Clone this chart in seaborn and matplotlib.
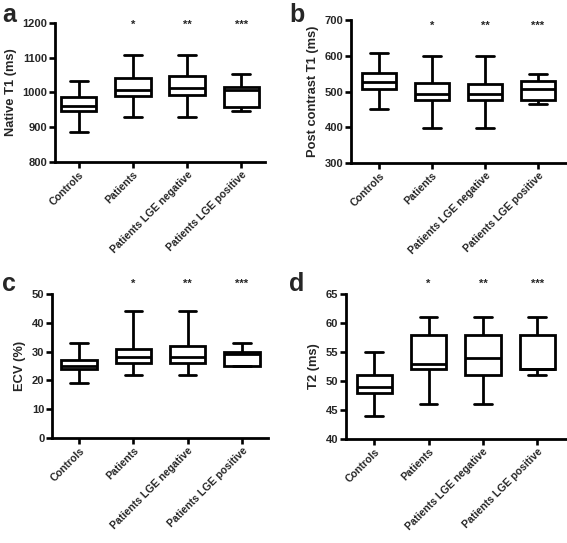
import numpy as np
import pandas as pd
import matplotlib
matplotlib.use("Agg")
import matplotlib.pyplot as plt
import seaborn as sns

sns.set_style("ticks")
plt.rcParams['font.family'] = ['Liberation Sans', 'DejaVu Sans']
plt.rcParams['font.weight'] = 'bold'

groups = ["Controls", "Patients", "Patients LGE negative", "Patients LGE positive"]
stars = ["", "*", "**", "***"]

# five-number summaries [min, Q1, median, Q3, max] per group
native_t1 = [[887, 947, 962, 987, 1033],
             [930, 990, 1007, 1042, 1107],
             [930, 992, 1013, 1048, 1107],
             [948, 958, 1008, 1017, 1053]]
post_t1 = [[450, 508, 527, 553, 609],
           [397, 477, 494, 523, 600],
           [397, 477, 494, 521, 600],
           [466, 477, 507, 530, 550]]
ecv = [[19, 24, 25, 27, 33],
       [22, 26, 28, 31, 44],
       [22, 26, 28, 32, 44],
       [25, 25, 29, 30, 33]]
t2 = [[44, 48, 49, 51, 55],
      [46, 52, 53, 58, 61],
      [46, 51, 54, 58, 61],
      [51, 52, 52, 58, 61]]

W, H = 567, 543
fig = plt.figure(figsize=(W / 100, H / 100), dpi=100)

panels = [
    ("a", native_t1, "Native T1 (ms)", (800, 1200), [800, 900, 1000, 1100, 1200],
     (55, 265, 23, 162), (-0.44, 3.44), 0.985, (2, 3)),
    ("b", post_t1, "Post contrast T1 (ms)", (300, 700), [300, 400, 500, 600, 700],
     (351, 566, 20, 163), (-0.53, 3.53), 0.96, (289, 3)),
    ("c", ecv, "ECV (%)", (0, 50), [0, 10, 20, 30, 40, 50],
     (52, 268, 294, 438), (-0.5, 3.48), 1.07, (2, 272)),
    ("d", t2, "T2 (ms)", (40, 65), [40, 45, 50, 55, 60, 65],
     (346, 566, 294, 439), (-0.52, 3.53), 1.07, (289, 272)),
]

for letter, data, ylabel, ylim, yticks, (l, r, t, b), xlim, sy, (lx, ly) in panels:
    ax = fig.add_axes([l / W, 1 - b / H, (r - l) / W, (b - t) / H])
    df = pd.DataFrame({
        "group": np.repeat(groups, 5),
        "value": np.concatenate([np.array(v, dtype=float) for v in data]),
    })
    sns.boxplot(data=df, x="group", y="value", order=groups, whis=(0, 100),
                width=0.65, color="white", linecolor="black", linewidth=2.0,
                ax=ax)
    ax.set_xlim(*xlim)
    ax.set_ylim(*ylim)
    ax.set_yticks(yticks)
    ax.set_xlabel("")
    ax.set_ylabel(ylabel, fontsize=9.3, fontweight="bold", labelpad=4)
    ax.set_xticks(range(4))
    ax.set_xticklabels(groups, rotation=45, ha="right", rotation_mode="anchor",
                       fontsize=7.6, fontweight="bold")
    for lab in ax.get_yticklabels():
        lab.set_fontsize(8)
        lab.set_fontweight("bold")
    ax.tick_params(axis="both", width=1.9, length=4, pad=1.5, color="black")
    sns.despine(ax=ax)
    for sp in ("left", "bottom"):
        ax.spines[sp].set_linewidth(2.0)
        ax.spines[sp].set_color("black")
    for i, s in enumerate(stars):
        if s:
            ax.text(i, sy, s, transform=ax.get_xaxis_transform(), ha="center",
                    va="center", fontsize=8, fontweight="bold")
    fig.text(lx / W, 1 - ly / H, letter, fontsize=18, fontweight="bold",
             ha="left", va="top")

fig.savefig("out.png", dpi=100)
